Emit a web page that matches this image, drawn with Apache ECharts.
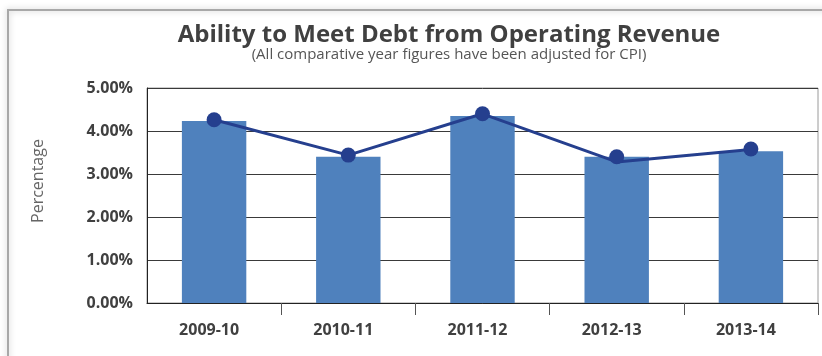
<!DOCTYPE html>
<html>
<head>
<meta charset="utf-8">
<script src="https://cdn.jsdelivr.net/npm/echarts@6/dist/echarts.min.js"></script>
<style>
html,body{margin:0;padding:0;background:#fff;}
#chart{width:822px;height:356px;}
</style>
</head>
<body>
<div id="chart"></div>
<script>
var categories = ['2009-10', '2010-11', '2011-12', '2012-13', '2013-14'];
var barValues = [4.23, 3.40, 4.35, 3.40, 3.53];
var lineValues = [4.26, 3.44, 4.40, 3.28, 3.57];
var markerValues = [4.26, 3.44, 4.40, 3.40, 3.58];
var yTicks = [0, 1, 2, 3, 4, 5];
var titleText = 'Ability to Meet Debt from Operating Revenue';
var subtitleText = '(All comparative year figures have been adjusted for CPI)';
var yAxisName = 'Percentage';

var chart = echarts.init(document.getElementById('chart'));
var textColor = '#404040';
var font = 'Open Sans';
chart.setOption({
  animation: false,
  backgroundColor: '#fff',
  title: {
    text: titleText,
    subtext: subtitleText,
    left: 444,
    textAlign: 'center',
    top: 18,
    itemGap: 0,
    textStyle: {fontFamily: font, fontWeight: 'bold', fontSize: 24, color: textColor},
    subtextStyle: {fontFamily: font, fontSize: 15, color: '#555'}
  },
  graphic: [
    {type: 'rect', shape: {x: 8, y: 10, width: 830, height: 360}, style: {fill: 'none', stroke: '#a8a8a8', lineWidth: 2, shadowBlur: 6, shadowColor: 'rgba(0,0,0,0.25)'}, z: -10},
    {type: 'text', x: 38, y: 181, rotation: Math.PI / 2,
      style: {text: yAxisName, fontFamily: font, fontSize: 16, fill: '#666', align: 'center', verticalAlign: 'middle'}}
  ],
  grid: {left: 147, right: 4, top: 88, bottom: 53, show: true, borderColor: '#9a9a9a', borderWidth: 1},
  xAxis: {
    type: 'category',
    data: categories,
    boundaryGap: true,
    axisLine: {lineStyle: {color: '#222', width: 1}},
    axisTick: {show: true, length: 12, lineStyle: {color: '#555', width: 1},
      interval: function (i) { return i > 0 && i < categories.length; }},
    axisLabel: {fontFamily: font, fontWeight: 'bold', fontSize: 16, color: textColor, margin: 19, padding: [0, 10, 0, 0]}
  },
  yAxis: {
    type: 'value',
    min: yTicks[0],
    max: yTicks[yTicks.length - 1],
    interval: 1,
    axisLine: {show: true, lineStyle: {color: '#222', width: 1}},
    axisTick: {show: false},
    splitLine: {lineStyle: {color: '#3a3a3a', width: 1}},
    axisLabel: {fontFamily: font, fontWeight: 'bold', fontSize: 16, color: textColor, margin: 14,
      formatter: function (v) { return v.toFixed(2) + '%'; }}
  },
  series: [
    {type: 'bar', data: barValues, barWidth: '48%', itemStyle: {color: '#4F81BD'}, z: 2},
    {type: 'line', data: lineValues, symbol: 'none', lineStyle: {color: '#253F8E', width: 3}, z: 3},
    {type: 'scatter', data: markerValues, symbol: 'circle', symbolSize: 15, itemStyle: {color: '#253F8E', opacity: 1}, z: 4}
  ]
});
</script>
</body>
</html>
